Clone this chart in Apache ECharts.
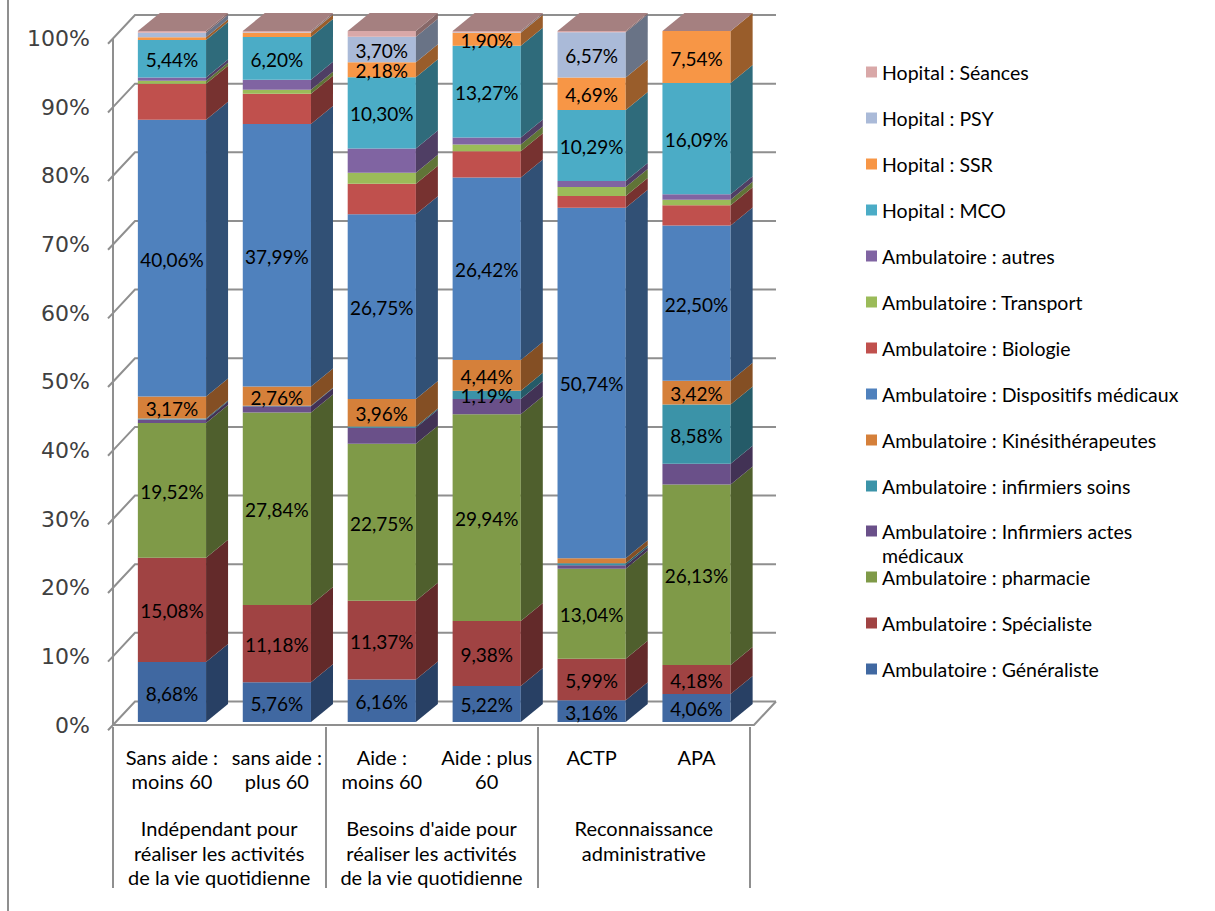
<!DOCTYPE html>
<html><head><meta charset="utf-8">
<script src="https://cdn.jsdelivr.net/npm/echarts@6/dist/echarts.min.js"></script>
<style>html,body{margin:0;padding:0;background:#fff}#c{width:1215px;height:911px}</style>
</head><body><div id="c"></div>
<script>
// ---------- data ----------
const categories = ['Sans aide :\nmoins 60', 'sans aide :\nplus 60', 'Aide :\nmoins 60', 'Aide : plus\n60', 'ACTP', 'APA'];
const groups = ['Indépendant pour\nréaliser les activités\nde la vie quotidienne', "Besoins d'aide pour\nréaliser les activités\nde la vie quotidienne", 'Reconnaissance\nadministrative'];
const yTicks = [0, 10, 20, 30, 40, 50, 60, 70, 80, 90, 100];

const seriesNames = [
  'Ambulatoire : Généraliste', 'Ambulatoire : Spécialiste', 'Ambulatoire : pharmacie',
  'Ambulatoire : Infirmiers actes médicaux', 'Ambulatoire : infirmiers soins', 'Ambulatoire : Kinésithérapeutes',
  'Ambulatoire : Dispositifs médicaux', 'Ambulatoire : Biologie', 'Ambulatoire : Transport',
  'Ambulatoire : autres', 'Hopital : MCO', 'Hopital : SSR', 'Hopital : PSY', 'Hopital : Séances'
];
const generaliste = [8.68, 5.76, 6.16, 5.22, 3.16, 4.06];
const specialiste = [15.08, 11.18, 11.37, 9.38, 5.99, 4.18];
const pharmacie   = [19.52, 27.84, 22.75, 29.94, 13.04, 26.13];
const infActes    = [0.50, 0.90, 2.30, 2.20, 0.50, 3.00];
const infSoins    = [0.15, 0.10, 0.20, 1.19, 0.30, 8.58];
const kine        = [3.17, 2.76, 3.96, 4.44, 0.70, 3.42];
const dispositifs = [40.06, 37.99, 26.75, 26.42, 50.74, 22.50];
const biologie    = [5.20, 4.40, 4.40, 3.80, 1.70, 2.90];
const transport   = [0.45, 0.55, 1.60, 1.00, 1.30, 0.80];
const autres      = [0.45, 1.45, 3.50, 1.00, 0.85, 0.80];
const mco         = [5.44, 6.20, 10.30, 13.27, 10.29, 16.09];
const ssr         = [0.40, 0.60, 2.18, 1.90, 4.69, 7.54];
const psy         = [0.65, 0.10, 3.70, 0.05, 6.57, 0];
const seances     = [0.25, 0.17, 0.83, 0.19, 0.17, 0];
const seriesValues = [generaliste, specialiste, pharmacie, infActes, infSoins, kine, dispositifs,
  biologie, transport, autres, mco, ssr, psy, seances];
const labelled = [true, true, true, false, true, true, true, false, false, false, true, true, true, false];

// ---------- style ----------
const frontColors = ['#4068A1', '#A04343', '#7F9A48', '#6A5089', '#3B93A8', '#D5803A', '#4F81BD',
  '#C0504D', '#9BBB59', '#8064A2', '#4BACC6', '#F79646', '#AABAD8', '#D9A8A8'];
function shade(hex, f) {
  const n = parseInt(hex.slice(1), 16);
  const r = Math.round(((n >> 16) & 255) * f), g = Math.round(((n >> 8) & 255) * f), b = Math.round((n & 255) * f);
  return 'rgb(' + r + ',' + g + ',' + b + ')';
}
const DX = 22, DY = 18, BAR_RATIO = 0.65;
const WX = 22, WY = 23.5;
const GRID_COLOR = '#8f8f8f';
const LABEL_FONT = 'Lato';

// ---------- stacking (100 %) ----------
const totals = categories.map((c, i) => seriesValues.reduce((s, arr) => s + arr[i], 0));
const cum = categories.map(() => 0);
const stacked = seriesValues.map(arr => arr.map((v, i) => {
  const a = cum[i] / totals[i] * 100;
  cum[i] += v;
  const b = cum[i] / totals[i] * 100;
  return [i, a, b, v];
}));
const last = seriesValues.length - 1;

function fmt(v) { return v.toFixed(2).replace('.', ',') + '%'; }

function makeRender(si) {
  const front = frontColors[si], side = shade(front, 0.62), top = shade(front, 0.76);
  return function (params, api) {
    const ci = api.value(0), v0 = api.value(1), v1 = api.value(2), val = api.value(3);
    const pb = api.coord([ci, v0]), pt = api.coord([ci, v1]);
    const bw = api.size([1, 0])[0] * BAR_RATIO;
    const xl = pb[0] - bw / 2, xr = pb[0] + bw / 2, yb = pb[1], yt = pt[1];
    const children = [];
    if (v1 - v0 > 0) {
      children.push({ type: 'rect', shape: { x: xl, y: yt, width: bw, height: yb - yt }, style: { fill: front } });
      children.push({ type: 'polygon', shape: { points: [[xr, yb], [xr + DX, yb - DY], [xr + DX, yt - DY], [xr, yt]] }, style: { fill: side } });
    }
    if (si === last) {
      children.push({ type: 'polygon', shape: { points: [[xl, yt], [xl + DX, yt - DY], [xr + DX, yt - DY], [xr, yt]] }, style: { fill: top } });
    }
    if (labelled[si] && val >= 1) {
      children.push({ type: 'text', z2: 100, x: (xl + xr) / 2, y: (yb + yt) / 2 + 1,
        style: { text: fmt(val), fill: '#000', fontSize: 19, fontFamily: LABEL_FONT, align: 'center', verticalAlign: 'middle' } });
    }
    return { type: 'group', children };
  };
}

function renderWall(params, api) {
  const v = api.value(1);
  const pL = api.coord([0, v]), pR = api.coord([1, v]);
  const fL = [pL[0] - WX, pL[1] + WY];
  const tk = [fL[0] - 5, fL[1] + 5.3];
  const st = { stroke: GRID_COLOR, lineWidth: 2, fill: null };
  const children = [{ type: 'polyline', shape: { points: [tk, fL, pL, pR] }, style: st }];
  if (v === yTicks[0]) {
    children.push({ type: 'polyline', shape: { points: [fL, [pR[0] - WX, pR[1] + WY], pR] }, style: st });
  }
  if (v === yTicks[yTicks.length - 1]) {
    const p0 = api.coord([0, yTicks[0]]);
    children.push({ type: 'line', shape: { x1: fL[0], y1: fL[1], x2: p0[0] - WX, y2: p0[1] + WY }, style: st });
  }
  return { type: 'group', children };
}

const barSeries = seriesNames.map((name, si) => ({
  type: 'custom', name, xAxisIndex: 0, yAxisIndex: 0, silent: true,
  itemStyle: { color: frontColors[si] },
  renderItem: makeRender(si),
  encode: { x: 0, y: [1, 2] },
  data: stacked[si]
}));

const legendText = { fontFamily: LABEL_FONT, fontSize: 19.5, lineHeight: 24, color: '#000' };
const legendBase = { orient: 'vertical', left: 866, itemWidth: 11, itemHeight: 11, itemGap: 22, padding: 0,
  icon: 'rect', selectedMode: false, textStyle: legendText };
const revNames = seriesNames.slice().reverse();

const option = {
  animation: false,
  backgroundColor: '#fff',
  grid: [
    { left: 119.5, top: 31, width: 629.5, height: 691, outerBoundsMode: 'none' },
    { left: 113, top: 38.5, width: 10, height: 686.5, outerBoundsMode: 'none' },
    { left: 135, top: 15, width: 641, height: 686.5, outerBoundsMode: 'none' },
    { left: 113, top: 31, width: 637, height: 696, outerBoundsMode: 'none' }
  ],
  xAxis: [
    { type: 'category', gridIndex: 0, data: categories, axisLine: { show: false }, axisTick: { show: false },
      axisLabel: { interval: 0, margin: 23, fontSize: 20, lineHeight: 24, color: '#000', fontFamily: LABEL_FONT } },
    { type: 'value', gridIndex: 1, show: false },
    { type: 'value', gridIndex: 2, min: 0, max: 1, show: false },
    { type: 'category', gridIndex: 3, data: groups, axisLine: { show: false },
      axisTick: { show: true, interval: 0, length: 161, lineStyle: { color: GRID_COLOR, width: 2 } },
      axisLabel: { interval: 0, margin: 89, fontSize: 20, lineHeight: 24.5, color: '#000', fontFamily: LABEL_FONT } }
  ],
  yAxis: [
    { type: 'value', gridIndex: 0, min: 0, max: 100, show: false },
    { type: 'value', gridIndex: 1, min: yTicks[0], max: yTicks[yTicks.length - 1], interval: 10,
      axisLine: { show: false }, axisTick: { show: false }, splitLine: { show: false },
      axisLabel: { formatter: '{value}%', margin: 23, fontSize: 22, color: '#404040', fontFamily: 'DejaVu Sans' } },
    { type: 'value', gridIndex: 2, min: 0, max: 100, show: false },
    { type: 'value', gridIndex: 3, show: false }
  ],
  legend: [
    Object.assign({}, legendBase, { top: 60, data: revNames.slice(0, 10) }),
    Object.assign({}, legendBase, { top: 495, data: [revNames[10]],
      formatter: n => '\n' + n.replace('actes ', 'actes\n') }),
    Object.assign({}, legendBase, { top: 565, data: revNames.slice(11) })
  ],
  graphic: [
    { type: 'line', shape: { x1: 8, y1: 0, x2: 8, y2: 911 }, style: { stroke: GRID_COLOR, lineWidth: 2 } }
  ],
  series: [
    { type: 'custom', xAxisIndex: 2, yAxisIndex: 2, silent: true, z: 1, renderItem: renderWall,
      data: yTicks.map(v => [0, v]) }
  ].concat(barSeries)
};

const chart = echarts.init(document.getElementById('c'), null, { renderer: 'svg' });
chart.setOption(option);
</script>
</body></html>
